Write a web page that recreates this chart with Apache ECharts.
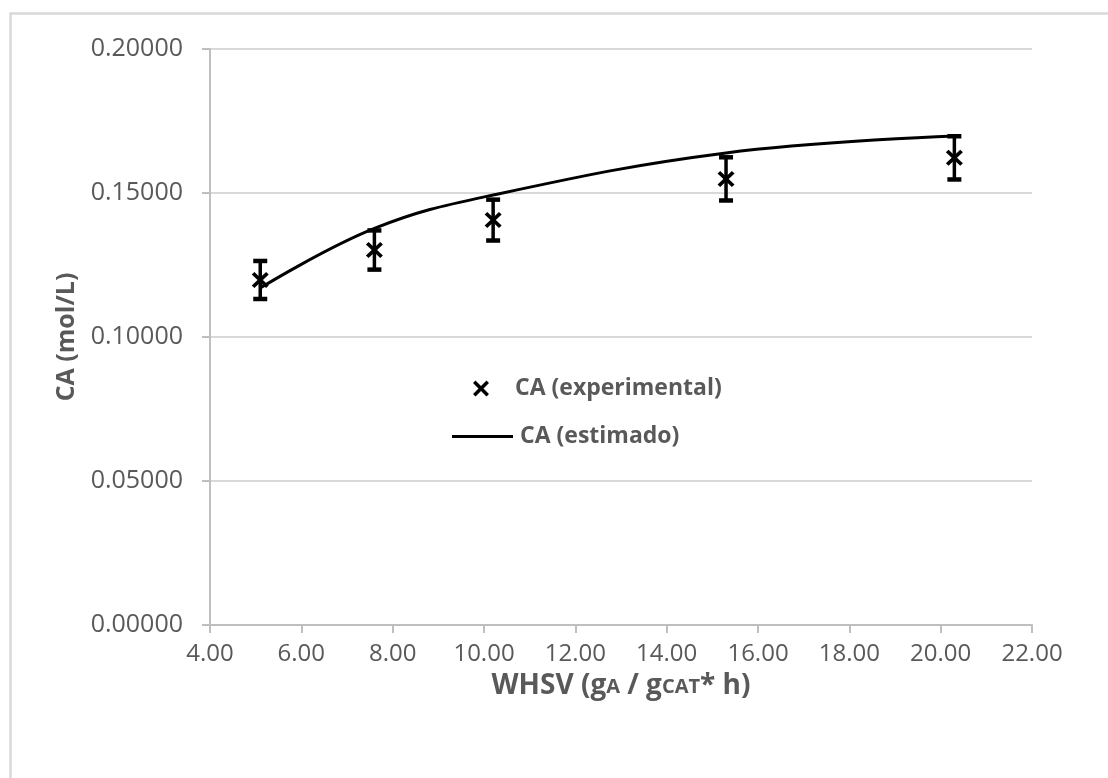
<!DOCTYPE html>
<html>
<head>
<meta charset="utf-8">
<script src="https://cdn.jsdelivr.net/npm/echarts@6/dist/echarts.min.js"></script>
<style>
  html, body { margin: 0; padding: 0; background: #fff; }
  #chart { width: 1108px; height: 778px; }
</style>
</head>
<body>
<div id="chart"></div>
<script>
// WHSV values (gA / gCAT* h)
const whsv = [5.1, 7.6, 10.2, 15.3, 20.3];
// measured CA (mol/L) and its error
const caExp = [0.1198, 0.1302, 0.1406, 0.1549, 0.1622];
const caErr = [0.0066, 0.0068, 0.0071, 0.0075, 0.0075];
// model estimate
const caEst = [0.1170, 0.1377, 0.1493, 0.1639, 0.1698];

const FONT = '"Open Sans", sans-serif';
const GREY = '#595959';
const X_MARK = 'path://M0,2.5L2.5,0L8,5.5L13.5,0L16,2.5L10.5,8L16,13.5L13.5,16L8,10.5L2.5,16L0,13.5L5.5,8Z';

const chart = echarts.init(document.getElementById('chart'));

const option = {
  backgroundColor: '#fff',
  animation: false,
  graphic: [
    {
      type: 'rect',
      left: 8, top: 11,
      shape: { width: 1300, height: 1000 },
      style: { fill: 'none', stroke: '#d9d9d9', lineWidth: 2.5 },
      silent: true
    }
  ],
  grid: { left: 210, right: 76, top: 49, bottom: 153 },
  legend: [
    {
      data: [{ name: 'CA (experimental)', icon: X_MARK }],
      left: 468, top: 372,
      itemWidth: 18, itemHeight: 16,
      textStyle: { fontFamily: FONT, fontWeight: 'bold', fontSize: 23, color: GREY, padding: [0, 0, 0, 20] }
    },
    {
      data: [{ name: 'CA (estimado)', icon: 'rect' }],
      left: 447, top: 420,
      itemWidth: 61, itemHeight: 3,
      itemStyle: { color: '#000' },
      textStyle: { fontFamily: FONT, fontWeight: 'bold', fontSize: 23, color: GREY, padding: [0, 0, 0, 2] }
    }
  ],
  xAxis: {
    type: 'value',
    min: 4, max: 22, interval: 2,
    name: 'WHSV (g{s|A} / g{s|CAT}* h)',
    nameLocation: 'middle',
    nameGap: 47,
    nameTextStyle: {
      fontFamily: FONT, fontWeight: 'bold', fontSize: 28, color: GREY,
      rich: { s: { fontFamily: FONT, fontWeight: 'bold', fontSize: 20, color: GREY, padding: [3, 0, 0, 0] } }
    },
    axisLine: { show: true, lineStyle: { color: '#bfbfbf', width: 2 } },
    axisTick: { show: true, length: 8, lineStyle: { color: '#bfbfbf', width: 2 } },
    axisLabel: {
      fontFamily: FONT, fontSize: 24, color: GREY, margin: 17,
      formatter: v => v.toFixed(2)
    },
    splitLine: { show: false }
  },
  yAxis: {
    type: 'value',
    min: 0, max: 0.2, interval: 0.05,
    name: 'CA (mol/L)',
    nameLocation: 'middle',
    nameRotate: 90,
    nameGap: 127,
    nameTextStyle: { fontFamily: FONT, fontWeight: 'bold', fontSize: 25, color: GREY },
    axisLine: { show: true, lineStyle: { color: '#bfbfbf', width: 2 } },
    axisTick: { show: true, length: 8, lineStyle: { color: '#bfbfbf', width: 2 } },
    axisLabel: {
      fontFamily: FONT, fontSize: 25, color: GREY, margin: 27,
      formatter: v => v.toFixed(5)
    },
    splitLine: { show: true, lineStyle: { color: '#d9d9d9', width: 2 } }
  },
  series: [
    {
      name: 'CA (estimado)',
      type: 'line',
      smooth: 0.4,
      symbol: 'none',
      data: whsv.map((x, i) => [x, caEst[i]]),
      lineStyle: { color: '#000', width: 3 },
      itemStyle: { color: '#000' },
      z: 2
    },
    {
      name: 'error',
      type: 'custom',
      data: whsv.map((x, i) => [x, caExp[i] - caErr[i], caExp[i] + caErr[i]]),
      renderItem: function (params, api) {
        const lo = api.coord([api.value(0), api.value(1)]);
        const hi = api.coord([api.value(0), api.value(2)]);
        const half = 7;
        const st = { stroke: '#000', lineWidth: 3.5 };
        const cap = { stroke: '#000', lineWidth: 4.5 };
        return {
          type: 'group',
          children: [
            { type: 'line', shape: { x1: lo[0], y1: lo[1], x2: hi[0], y2: hi[1] }, style: st },
            { type: 'line', shape: { x1: lo[0] - half, y1: lo[1], x2: lo[0] + half, y2: lo[1] }, style: cap },
            { type: 'line', shape: { x1: hi[0] - half, y1: hi[1], x2: hi[0] + half, y2: hi[1] }, style: cap }
          ]
        };
      },
      z: 3
    },
    {
      name: 'CA (experimental)',
      type: 'scatter',
      symbol: X_MARK,
      symbolSize: [17, 16],
      data: whsv.map((x, i) => [x, caExp[i]]),
      itemStyle: { color: '#000', opacity: 1 },
      z: 4
    }
  ]
};

chart.setOption(option);
</script>
</body>
</html>
